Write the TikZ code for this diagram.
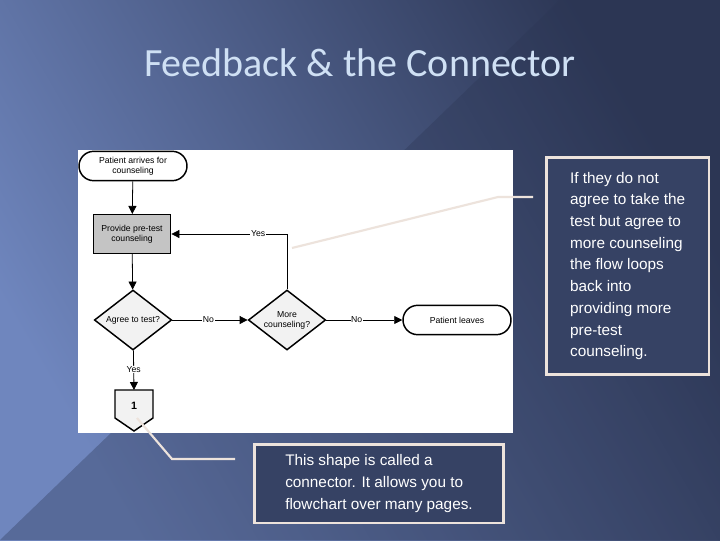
\documentclass[tikz,border=0pt]{standalone}
\usepackage{fontspec}
\setmainfont{Liberation Sans}
\newfontfamily\titlefont{Carlito}
\usetikzlibrary{shapes.geometric,arrows.meta}
\definecolor{bgA}{HTML}{6F86BE}
\definecolor{bgB}{HTML}{2C3654}
\definecolor{titlec}{HTML}{CFE0F4}
\definecolor{boxgray}{HTML}{C4C4C4}
\definecolor{lightg}{HTML}{F2F2F2}
\definecolor{callc}{HTML}{EDE3DC}
\begin{document}
\begin{tikzpicture}[x=0.75pt,y=-0.75pt,
  fc/.style={draw=black,line width=1.1pt,align=center,font=\fontsize{6.5}{7.5}\selectfont},
  term/.style={fc,rounded corners=11pt,fill=white,minimum width=81pt,minimum height=22pt,inner sep=1pt},
  proc/.style={fc,fill=boxgray,minimum width=58pt,minimum height=29pt,inner sep=1pt},
  dia/.style={fc,diamond,fill=lightg,minimum width=58pt,minimum height=45pt,inner sep=0pt,aspect=1.3},
  arr/.style={-{Triangle[length=6pt,width=6pt]},line width=0.6pt},
  lbl/.style={fill=white,inner sep=0.5pt,font=\fontsize{6.5}{7.5}\selectfont},
  callout/.style={draw=callc,line width=2pt,fill=bgB!85!bgA,text=white,align=left,font=\fontsize{11.5}{16.3}\selectfont,inner xsep=5pt,inner ysep=5pt},
  cline/.style={draw=callc,line width=1.6pt}]
\useasboundingbox (0,0) rectangle (720,540);
\shade[left color=bgA,right color=bgB,shading angle=120] (0,0) rectangle (720,540);
\fill[bgB,opacity=0.35] (0,540) -- (720,540) -- (720,0) -- (560,0) -- cycle;
\node[font=\titlefont\fontsize{30}{34}\selectfont,text=titlec] (title) at (360,63) {Feedback \& the Connector};
\fill[white] (78,150) rectangle (513,433);
\node[term] (start) at (133,166) {Patient arrives for\\counseling};
\node[proc] (pre) at (132,234) {Provide pre-test\\counseling};
\node[dia] (agree) at (133,320) {Agree to test?};
\node[dia] (more) at (287,320) {More\\counseling?};
\node[term] (leave) at (457,320) {Patient leaves};
\draw[fc,fill=lightg] (115,390) -- (153,390) -- (153,418) -- (134,431) -- (115,418) -- cycle;
\node[font=\bfseries\fontsize{8}{9}\selectfont] (one) at (134,406) {1};
\coordinate (conntop) at (134,390);
\coordinate (ycorner) at (287,234);
\draw[arr] (start) -- (pre);
\draw[arr] (pre) -- (agree);
\draw[arr] (agree) -- node[lbl,pos=0.48]{Yes} (conntop);
\draw[arr] (agree) -- node[lbl,pos=0.48]{No} (more);
\draw[arr] (more) -- node[lbl,pos=0.4]{No} (leave);
\draw[arr] (more.north) -- (ycorner) -- node[lbl,pos=0.25]{Yes} (pre.east);
\node[callout,anchor=north west,minimum width=122pt,minimum height=163pt] (c1) at (545,156) {If they do not\\agree to take the\\test but agree to\\more counseling\\the flow loops\\back into\\providing more\\pre-test\\counseling.};
\node[callout,anchor=north west,minimum width=187pt,minimum height=59pt] (c2) at (253,443) {This shape is called a\\connector. It allows you to\\flowchart over many pages.};
\coordinate (k1) at (498,197);
\coordinate (e1) at (533,197);
\coordinate (s1) at (292,248);
\draw[cline] (s1) -- (k1) -- (e1);
\coordinate (s2) at (137,418);
\coordinate (k2) at (172,459);
\coordinate (e2) at (235,459);
\draw[cline] (s2) -- (k2) -- (e2);
\end{tikzpicture}
\end{document}
